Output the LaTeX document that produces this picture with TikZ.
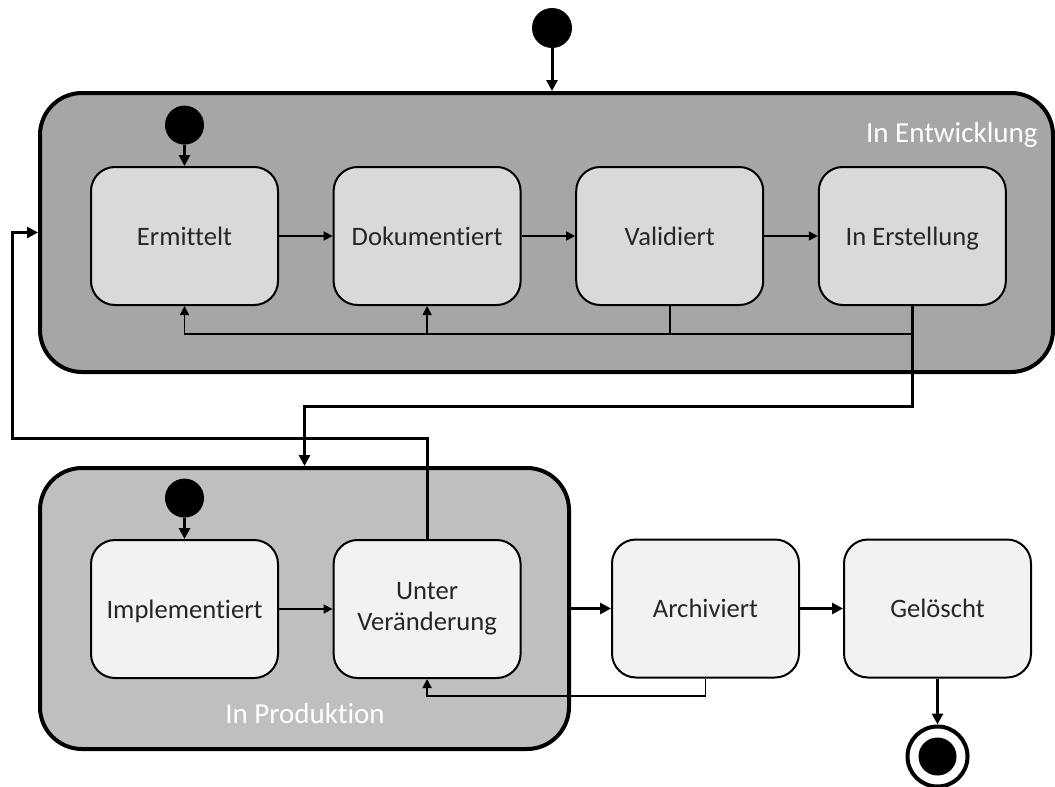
\documentclass[tikz,border=0pt]{standalone}
\usepackage{fontspec}
\setmainfont{Carlito}[Ligatures=NoCommon]
\usepackage{xcolor}
\usetikzlibrary{arrows.meta, positioning, calc}
\definecolor{colDev}{HTML}{A6A6A6}
\definecolor{colProd}{HTML}{BFBFBF}
\definecolor{colDevState}{HTML}{D9D9D9}
\definecolor{colState}{HTML}{F2F2F2}
\definecolor{colText}{HTML}{262626}

\begin{document}
\begin{tikzpicture}[
    x=0.5pt, y=-0.5pt,
    >={Triangle[length=4.5pt, width=4.5pt]},
    statebox/.style={
        rectangle, rounded corners=12pt, draw=black,
        line width=1pt, align=center, text=colText,
        minimum width=93.5pt, minimum height=69pt,
        text height=10.5pt, text depth=1.5pt,
        font=\fontsize{13.3}{15.5}\selectfont
    },
    devstate/.style={statebox, fill=colDevState},
    prodstate/.style={statebox, fill=colState},
    superbox/.style={
        rectangle, rounded corners=21pt, draw=black,
        line width=2pt, inner sep=0pt
    },
    superlabel/.style={
        text=white, inner sep=0pt,
        font=\fontsize{14.5}{17}\selectfont
    },
    initdot/.style={circle, fill=black, inner sep=0pt, minimum size=19.5pt},
    thinflow/.style={->, line width=0.8pt},
    thickflow/.style={->, line width=1.5pt,
        >={Triangle[length=5.5pt, width=5.5pt]}}
]
    \useasboundingbox (0,0) rectangle (1055,787);

    % --- SUPER STATES ---
    \node[superbox, fill=colDev, minimum width=506.5pt, minimum height=139.5pt]
        (entw) at (546.5,232.5) {};
    \node[superbox, fill=colProd, minimum width=264.5pt, minimum height=140.5pt]
        (prod) at (304.5,608.5) {};
    \node[superlabel, anchor=base east] (entwlabel) at (1038,142) {In Entwicklung};
    \node[superlabel, anchor=base] (prodlabel) at (305,723) {In Produktion};

    % --- STATES IN ENTWICKLUNG ---
    \node[devstate] (erm) at (184.5,236) {Ermittelt};
    \node[devstate, right=26.8pt of erm] (dok) {Dokumentiert};
    \node[devstate, right=26.8pt of dok] (val) {Validiert};
    \node[devstate, right=26.8pt of val] (erst) {In Erstellung};

    % --- STATES IN PRODUKTION ---
    \node[prodstate] (impl) at (184.5,609) {Implementiert};
    \node[prodstate, right=26.8pt of impl, text height=, text depth=]
        (unter) {Unter\\Veränderung};

    % --- STATES AFTER PRODUKTION ---
    \node[prodstate, right=20pt of prod] (arch) {Archiviert};
    \node[prodstate, right=21.5pt of arch] (gel) {Gelöscht};

    % --- INITIAL AND FINAL NODES ---
    \node[initdot, minimum size=20pt] (start) at (552,28) {};
    \node[initdot, above=10.5pt of erm] (startDev) {};
    \node[initdot, above=10.5pt of impl] (startProd) {};
    \node[circle, draw=black, line width=2pt, fill=white, minimum size=30pt,
        inner sep=0pt, below=23pt of gel] (final) {};
    \node[initdot, minimum size=19pt] (finalDot) at (final) {};

    % helper rows for the routed lines
    \coordinate (backRow) at (0,334);
    \coordinate (downRow) at (0,406);
    \coordinate (loopCorner) at (12,438);
    \coordinate (archRow) at (0,696);

    % --- ARROWS ---
    \draw[thickflow] (start) -- (start |- entw.north);
    \draw[thickflow] (startDev) -- (erm);
    \draw[thickflow] (startProd) -- (impl);

    \draw[thinflow] (erm) -- (dok);
    \draw[thinflow] (dok) -- (val);
    \draw[thinflow] (val) -- (erst);
    \draw[thinflow] (val.south) |- (erm.south |- backRow) -- (erm.south);
    \draw[thinflow] (dok.south |- backRow) -- (dok.south);
    \draw[line width=0.8pt] (erst.south |- backRow) -- (val.south |- backRow);

    \draw[thickflow] (erst.south) |- (prod.north |- downRow) -- (prod.north);
    \draw[thickflow] (unter.north) |- (loopCorner) |- (entw.west);

    \draw[thinflow] (impl) -- (unter);
    \draw[thickflow] (prod.east) -- (arch.west);
    \draw[thickflow] (arch) -- (gel);
    \draw[thinflow] (arch.south) |- (unter.south |- archRow) -- (unter.south);
    \draw[thickflow] (gel) -- (final);

\end{tikzpicture}
\end{document}
